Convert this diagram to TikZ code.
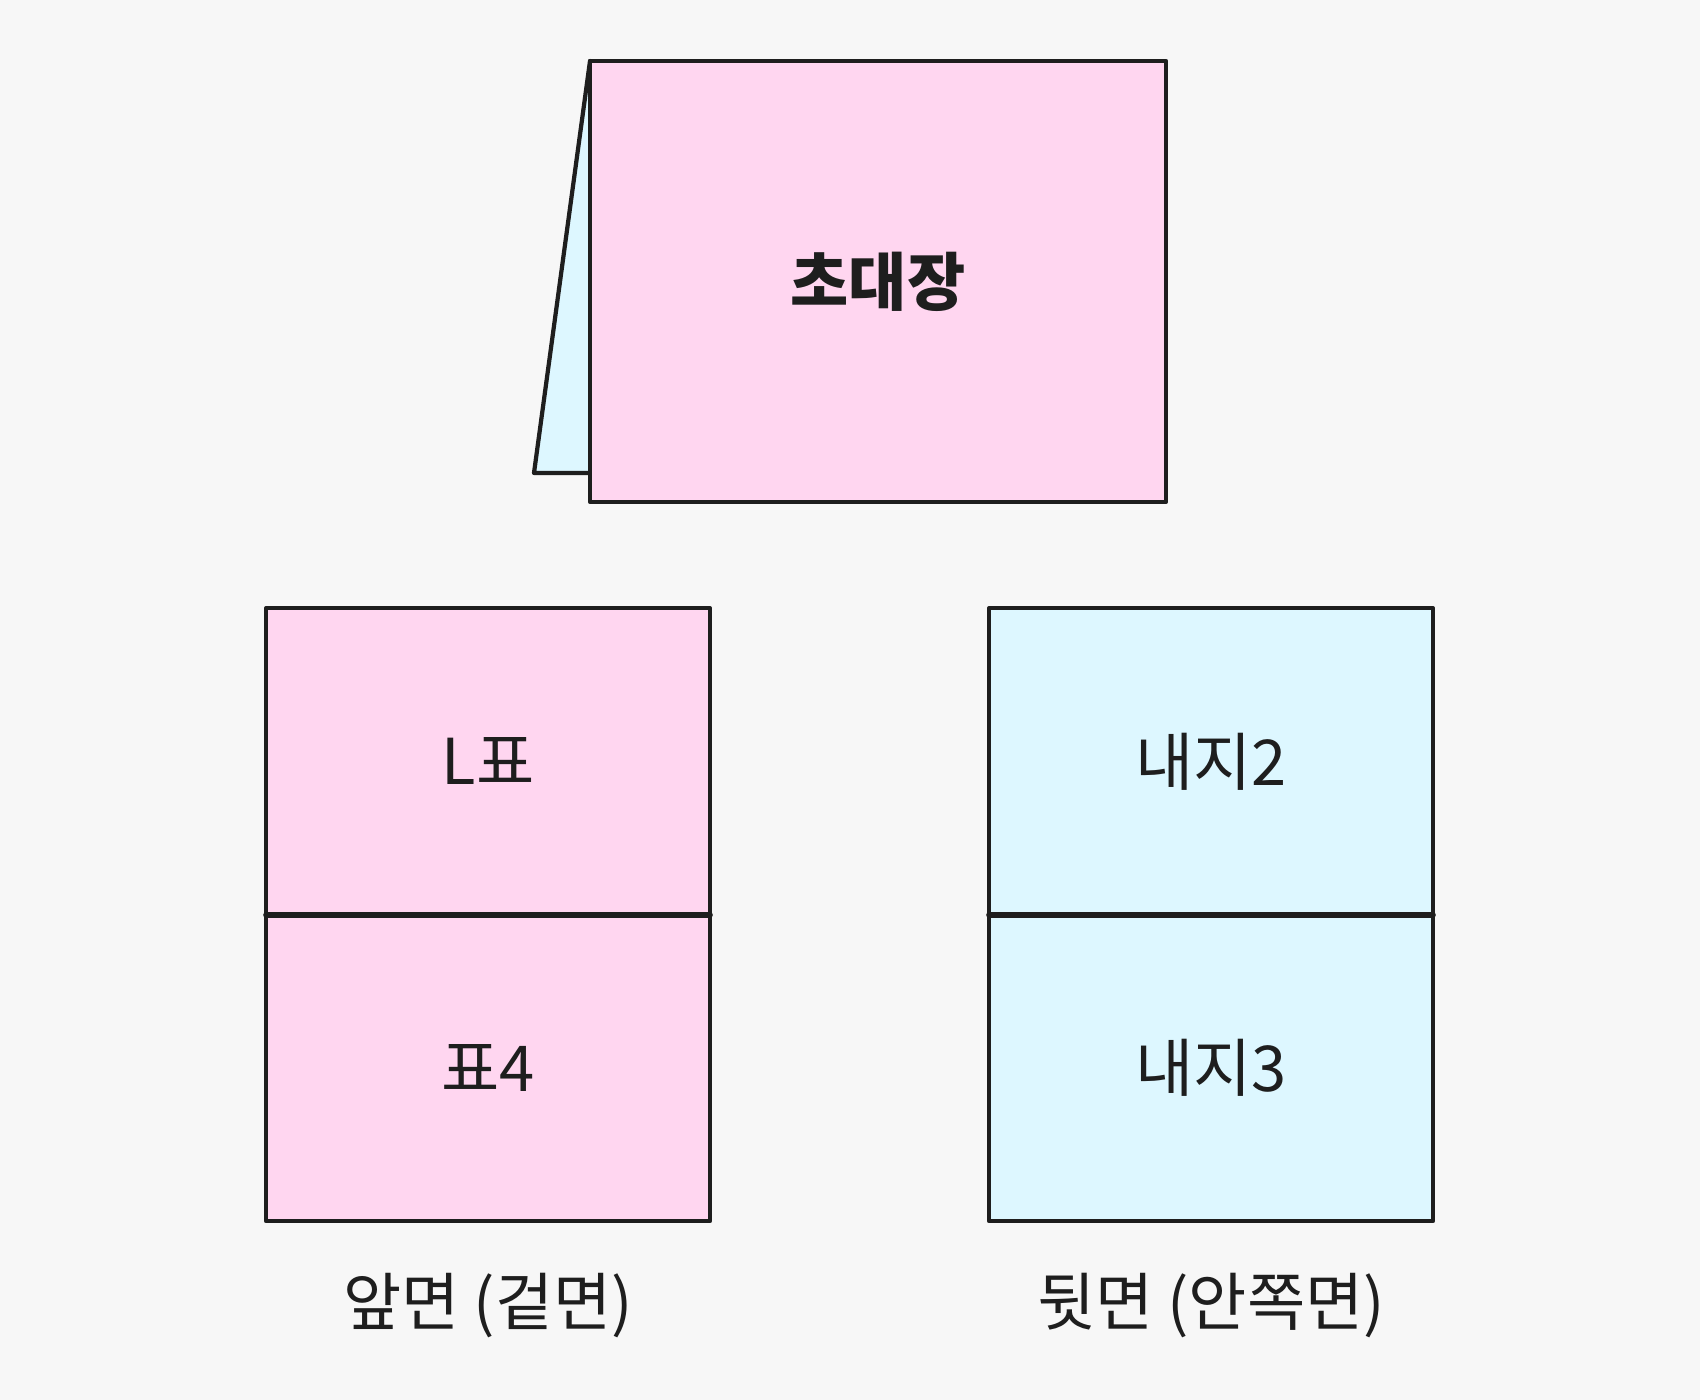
\documentclass[tikz,border=0pt]{standalone}
\usepackage{fontspec}
\setmainfont{Noto Sans CJK KR}
\usepackage{tikz}
\usetikzlibrary{positioning}
\definecolor{bgcol}{HTML}{F7F7F7}
\definecolor{pinkcol}{HTML}{FFD6F0}
\definecolor{cyancol}{HTML}{DDF7FF}
\definecolor{inkcol}{HTML}{1E1E1E}
\tikzset{
  panel/.style={draw=inkcol,line width=1.2pt,minimum width=4.44cm,minimum height=3.065cm,
    inner sep=0pt,outer sep=0pt,text=inkcol,font=\fontsize{18}{22}\selectfont},
  fold/.style={inkcol,line width=1.6pt},
  caption/.style={text=inkcol,font=\fontsize{18}{22}\selectfont}
}

\begin{document}
\begin{tikzpicture}[x=1cm,y=1cm,line cap=round,line join=round]
  % Window
  \fill[bgcol] (0,0) rectangle (17,14);
  \useasboundingbox (0,0) rectangle (17,14);

  % Folded card: back leaf, then front leaf
  \coordinate (flaptop) at (5.90,13.39);
  \coordinate (flapfoot) at (5.34,9.27);
  \coordinate (flapinner) at (5.90,9.27);
  \filldraw[cyancol,draw=inkcol,line width=1.2pt] (flaptop) -- (flapfoot) -- (flapinner);
  \node[panel,fill=pinkcol,minimum width=5.76cm,minimum height=4.41cm,
        font=\fontsize{18}{22}\selectfont\bfseries] (invite) at (8.78,11.185) {초대장};

  % Outer side
  \node[panel,fill=pinkcol] (cover1) at (4.88,6.385) {L표};
  \node[panel,fill=pinkcol,below=0pt of cover1] (cover4) {표4};
  \draw[fold] (cover1.south west) -- (cover1.south east);

  % Inner side
  \node[panel,fill=cyancol] (inner2) at (12.11,6.385) {내지2};
  \node[panel,fill=cyancol,below=0pt of inner2] (inner3) {내지3};
  \draw[fold] (inner2.south west) -- (inner2.south east);

  % Captions
  \node[caption] (outerlbl) at (4.88,0.94) {앞면 (겉면)};
  \node[caption] (innerlbl) at (12.11,0.94) {뒷면 (안쪽면)};

\end{tikzpicture}
\end{document}
